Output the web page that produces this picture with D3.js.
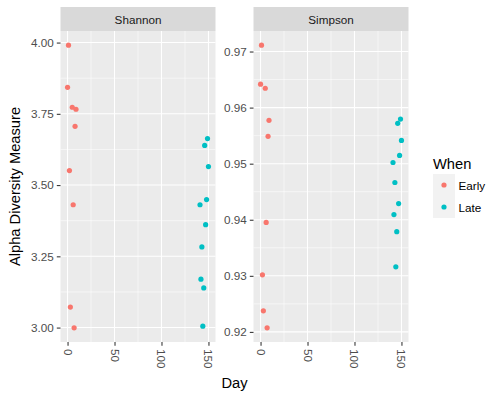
<!DOCTYPE html>
<html>
<head>
<meta charset="utf-8">
<script src="https://cdn.jsdelivr.net/npm/d3@7"></script>
<style>
body{margin:0;background:#fff;}
text{font-family:"Liberation Sans", Arial, sans-serif;}
</style>
</head>
<body>
<div id="chart"></div>
<script>
// values
const metrics = ["Shannon", "Simpson"];
const groups = ["Early", "Late"];
const groupColors = ["#F8766D", "#00BFC4"];
const earlyDays = [0, 1, 2, 3, 5, 6, 7, 8, 9];
const earlyShannon = [3.843, 3.991, 3.551, 3.072, 3.773, 3.431, 2.999, 3.706, 3.766];
const earlySimpson = [0.96417, 0.97114, 0.93018, 0.92376, 0.96345, 0.93953, 0.92072, 0.95487, 0.95773];
const lateDays = [141, 142, 143, 144, 145, 146, 147, 148, 149, 150];
const lateShannon = [3.431, 3.170, 3.283, 3.005, 3.139, 3.639, 3.361, 3.449, 3.663, 3.565];
const lateSimpson = [0.95021, 0.94092, 0.94664, 0.93161, 0.93787, 0.95719, 0.94288, 0.95147, 0.95796, 0.95415];
const xTicks = [0, 50, 100, 150];
const yTicks = {Shannon: [3.00, 3.25, 3.50, 3.75, 4.00], Simpson: [0.92, 0.93, 0.94, 0.95, 0.96, 0.97]};

const width = 500, height = 400;
const panelTop = 31, panelBottom = 342, stripTop = 7;
const panelLefts = [60.5, 253.5], panelW = 155;
const tickColor = "#4D4D4D";
const pointR = 2.6;

const rows = [];
earlyDays.forEach((d, i) => rows.push({day: d, when: "Early", Shannon: earlyShannon[i], Simpson: earlySimpson[i]}));
lateDays.forEach((d, i) => rows.push({day: d, when: "Late", Shannon: lateShannon[i], Simpson: lateSimpson[i]}));

const color = d3.scaleOrdinal().domain(groups).range(groupColors);

// ggplot style 5% expansion
function expanded(vals){
    const [lo, hi] = d3.extent(vals);
    const pad = (hi - lo) * 0.05;
    return [lo - pad, hi + pad];
}

const svg = d3.select("#chart").append("svg").attr("width", width).attr("height", height);
svg.append("rect").attr("width", width).attr("height", height).attr("fill", "#fff");

const xDomain = expanded(rows.map(r => r.day));

metrics.forEach((m, k) => {
    const left = panelLefts[k];
    const xScale = d3.scaleLinear().domain(xDomain).range([left, left + panelW]);
    const yScale = d3.scaleLinear().domain(expanded(rows.map(r => r[m]))).range([panelBottom, panelTop]);
    const g = svg.append("g");

    g.append("rect")
        .attr("x", left).attr("y", panelTop)
        .attr("width", panelW).attr("height", panelBottom - panelTop)
        .attr("fill", "#EBEBEB");

    // minor grid
    const yt = yTicks[m];
    const yMinor = d3.pairs(yt).map(p => (p[0] + p[1]) / 2);
    const xMinor = d3.pairs(xTicks).map(p => (p[0] + p[1]) / 2);
    g.selectAll(".ymin").data(yMinor).join("line")
        .attr("x1", left).attr("x2", left + panelW)
        .attr("y1", d => yScale(d)).attr("y2", d => yScale(d))
        .attr("stroke", "#fff").attr("stroke-width", 0.55);
    g.selectAll(".xmin").data(xMinor).join("line")
        .attr("y1", panelTop).attr("y2", panelBottom)
        .attr("x1", d => xScale(d)).attr("x2", d => xScale(d))
        .attr("stroke", "#fff").attr("stroke-width", 0.55);
    // major grid
    g.selectAll(".ymaj").data(yt).join("line")
        .attr("x1", left).attr("x2", left + panelW)
        .attr("y1", d => yScale(d)).attr("y2", d => yScale(d))
        .attr("stroke", "#fff").attr("stroke-width", 1.07);
    g.selectAll(".xmaj").data(xTicks).join("line")
        .attr("y1", panelTop).attr("y2", panelBottom)
        .attr("x1", d => xScale(d)).attr("x2", d => xScale(d))
        .attr("stroke", "#fff").attr("stroke-width", 1.07);

    // strip
    g.append("rect")
        .attr("x", left).attr("y", stripTop)
        .attr("width", panelW).attr("height", panelTop - stripTop)
        .attr("fill", "#D9D9D9");
    g.append("text")
        .attr("x", left + panelW / 2).attr("y", (stripTop + panelTop) / 2)
        .attr("text-anchor", "middle").attr("dominant-baseline", "central")
        .attr("font-size", "11.7px").attr("fill", "#1A1A1A")
        .text(m);

    // y axis
    const yAxis = d3.axisLeft(yScale).tickValues(yt).tickFormat(d3.format(".2f")).tickSizeOuter(0).tickSize(3.7).tickPadding(3);
    const ya = g.append("g").attr("transform", `translate(${left},0)`).call(yAxis);
    ya.select(".domain").remove();
    ya.selectAll("line").attr("stroke", "#333333").attr("stroke-width", 1.07);
    ya.selectAll("text").attr("fill", tickColor).attr("font-size", "11.7px").attr("font-family", "Liberation Sans, Arial, sans-serif");

    // x axis, labels turned 90deg
    const xAxis = d3.axisBottom(xScale).tickValues(xTicks).tickFormat(d3.format("d")).tickSizeOuter(0).tickSize(3.7);
    const xa = g.append("g").attr("transform", `translate(0,${panelBottom})`).call(xAxis);
    xa.select(".domain").remove();
    xa.selectAll("line").attr("stroke", "#333333").attr("stroke-width", 1.07);
    xa.selectAll("text")
        .attr("fill", tickColor).attr("font-size", "11.7px").attr("font-family", "Liberation Sans, Arial, sans-serif")
        .attr("y", 0).attr("dy", null)
        .attr("text-anchor", "start").attr("dominant-baseline", "central")
        .attr("transform", "translate(0,7) rotate(90)");

    // points
    g.selectAll("circle").data(rows).join("circle")
        .attr("cx", d => xScale(d.day))
        .attr("cy", d => yScale(d[m]))
        .attr("r", pointR)
        .attr("fill", d => color(d.when));
});

// axis titles
svg.append("text")
    .attr("x", (panelLefts[0] + panelLefts[1] + panelW) / 2).attr("y", 388)
    .attr("text-anchor", "middle").attr("font-size", "14.7px").attr("fill", "#000")
    .text("Day");
svg.append("text")
    .attr("transform", `translate(20,${(panelTop + panelBottom) / 2}) rotate(-90)`)
    .attr("text-anchor", "middle").attr("font-size", "14.7px").attr("fill", "#000")
    .text("Alpha Diversity Measure");

// legend
const legend = svg.append("g").attr("transform", "translate(433,174)");
legend.append("text").attr("x", 0).attr("y", -5).attr("font-size", "14.7px").attr("fill", "#000").text("When");
const keySize = 22;
const items = legend.selectAll(".item").data(groups).join("g")
    .attr("transform", (d, i) => `translate(0,${i * keySize})`);
items.append("rect").attr("width", keySize).attr("height", keySize).attr("fill", "#F2F2F2");
items.append("circle").attr("cx", keySize / 2).attr("cy", keySize / 2).attr("r", pointR).attr("fill", d => color(d));
items.append("text")
    .attr("x", keySize + 3.5).attr("y", keySize / 2)
    .attr("dominant-baseline", "central").attr("font-size", "11.7px").attr("fill", "#000")
    .text(d => d);
</script>
</body>
</html>
